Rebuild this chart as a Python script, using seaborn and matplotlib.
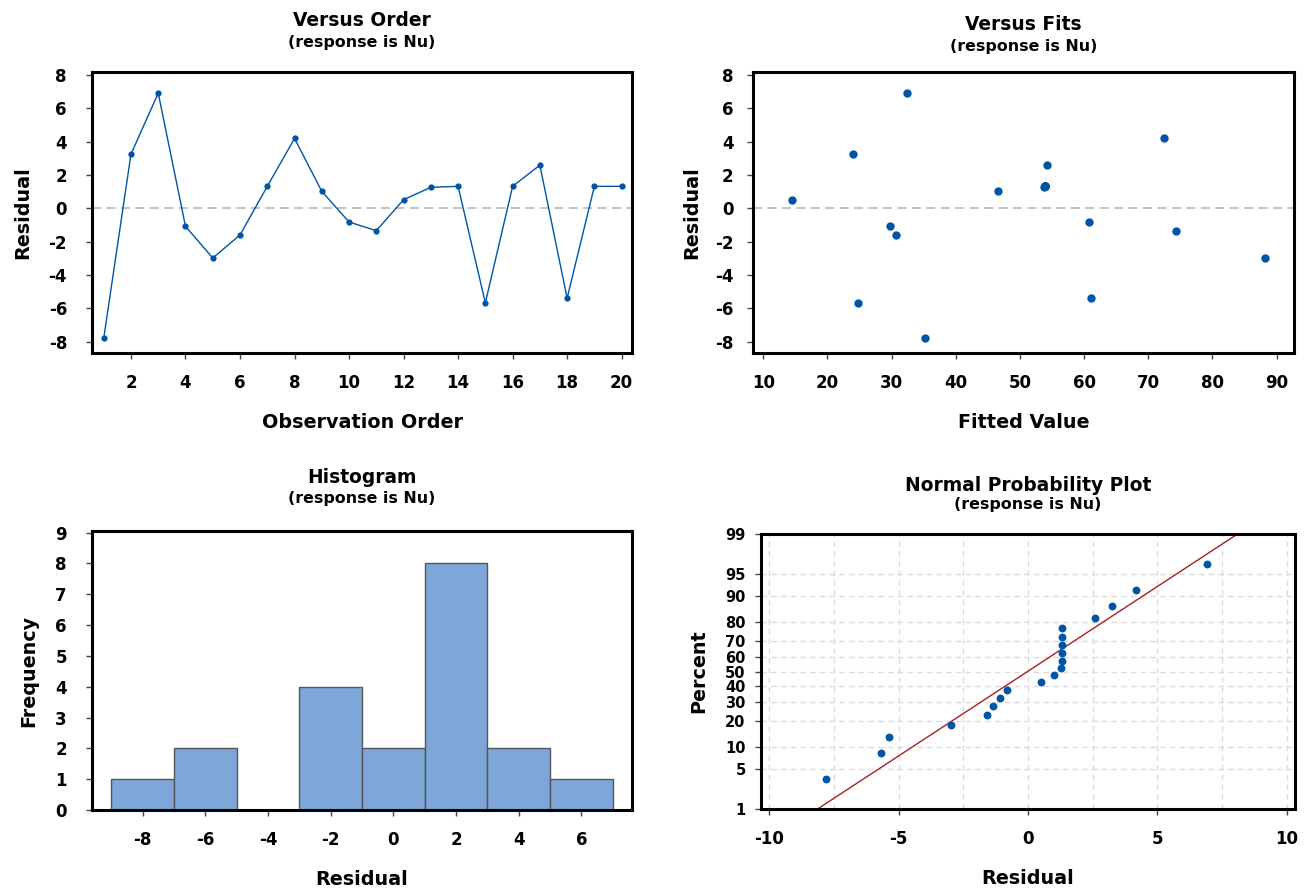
import numpy as np
import pandas as pd
import matplotlib
matplotlib.use("Agg")
import matplotlib.pyplot as plt
import seaborn as sns
from matplotlib.ticker import MultipleLocator, FixedLocator
from statistics import NormalDist

# residuals, in observation order
order = list(range(1, 21))
residuals = [-7.80, 3.25, 6.91, -1.08, -2.98, -1.60, 1.32, 4.19, 1.02, -0.82,
             -1.34, 0.52, 1.26, 1.32, -5.67, 1.32, 2.59, -5.39, 1.32, 1.32]
fitted = [35.27, 23.94, 32.44, 29.83, 88.24, 30.74, 53.85, 72.38, 46.54, 60.71,
          74.31, 14.53, 53.80, 53.90, 24.79, 53.90, 54.25, 61.05, 53.90, 53.95]
pct_ticks = [1, 5, 10, 20, 30, 40, 50, 60, 70, 80, 90, 95, 99]

df = pd.DataFrame({"order": order, "resid": residuals, "fit": fitted})

sns.set_theme(style="white")
plt.rcParams["font.family"] = ["DejaVu Sans"]
plt.rcParams["font.weight"] = "bold"
plt.rcParams["axes.labelweight"] = "bold"
plt.rcParams["text.color"] = "black"
plt.rcParams["axes.labelcolor"] = "black"
plt.rcParams["xtick.color"] = "black"
plt.rcParams["ytick.color"] = "black"
plt.rcParams["axes.unicode_minus"] = False

W, H = 1309, 888
fig = plt.figure(figsize=(W / 100, H / 100), dpi=100)

def box(l, t, r, b):
    return fig.add_axes([l / W, 1 - b / H, (r - l) / W, (b - t) / H])

blue = "#0054A6"
tick_fs = 12
lab_fs = 13.8

def style(ax, ypad=14, xpad=11):
    for s in ax.spines.values():
        s.set_linewidth(2.2)
        s.set_color("black")
    ax.tick_params(axis="both", direction="out", length=4, width=1, color="#444444",
                   labelsize=tick_fs, bottom=True, left=True)
    ax.tick_params(axis="y", pad=ypad)
    ax.tick_params(axis="x", pad=xpad)
    for lbl in ax.get_xticklabels() + ax.get_yticklabels():
        lbl.set_fontweight("bold")

def titles(ax, main, y1, y2):
    pos = ax.get_position()
    xc = (pos.x0 + pos.x1) / 2
    fig.text(xc, 1 - y1 / H, main, ha="center", va="center", fontsize=13.4, fontweight="bold")
    fig.text(xc, 1 - y2 / H, "(response is Nu)", ha="center", va="center", fontsize=11.4,
             fontweight="bold")

# Versus Order
ax1 = box(92, 72, 632, 353)
ax1.axhline(0, color="#BDBDBD", lw=1.3, dashes=(5, 3), zorder=0)
sns.lineplot(data=df, x="order", y="resid", ax=ax1, color=blue, lw=1, marker="o",
             markersize=4.5, markeredgewidth=0)
ax1.set_xlim(0.57, 20.38)
ax1.set_ylim(-8.68, 8.18)
ax1.xaxis.set_major_locator(MultipleLocator(2))
ax1.yaxis.set_major_locator(MultipleLocator(2))
ax1.set_xlabel("Observation Order", fontsize=lab_fs, labelpad=15)
ax1.set_ylabel("Residual", fontsize=lab_fs, labelpad=12)
style(ax1)
titles(ax1, "Versus Order", 20, 42)

# Versus Fits
ax2 = box(753, 72, 1294, 353)
ax2.axhline(0, color="#BDBDBD", lw=1.3, dashes=(5, 3), zorder=0)
sns.scatterplot(data=df, x="fit", y="resid", ax=ax2, color=blue, s=36, linewidth=0)
ax2.set_xlim(8.41, 92.71)
ax2.set_ylim(-8.68, 8.18)
ax2.xaxis.set_major_locator(MultipleLocator(10))
ax2.yaxis.set_major_locator(MultipleLocator(2))
ax2.set_xlabel("Fitted Value", fontsize=lab_fs, labelpad=15)
ax2.set_ylabel("Residual", fontsize=lab_fs, labelpad=10)
style(ax2, ypad=10)
titles(ax2, "Versus Fits", 25, 47)

# Histogram
ax3 = box(92, 531, 632, 810)
sns.histplot(data=df, x="resid", ax=ax3, binrange=(-9, 7), binwidth=2,
             color="#7EA6D8", edgecolor="#555555", linewidth=1, alpha=1)
ax3.set_xlim(-9.62, 7.62)
ax3.set_ylim(0, 9.05)
ax3.xaxis.set_major_locator(FixedLocator([-8, -6, -4, -2, 0, 2, 4, 6]))
ax3.yaxis.set_major_locator(MultipleLocator(1))
ax3.set_xlabel("Residual", fontsize=lab_fs, labelpad=15)
ax3.set_ylabel("Frequency", fontsize=lab_fs, labelpad=12)
style(ax3)
titles(ax3, "Histogram", 477, 498)

# Normal Probability Plot
nd = NormalDist()
_ppf = np.vectorize(lambda p: nd.inv_cdf(min(max(p / 100.0, 1e-9), 1 - 1e-9)), otypes=[float])
_cdf = np.vectorize(lambda z: nd.cdf(z) * 100.0, otypes=[float])

def fwd(p):
    return _ppf(np.asarray(p, dtype=float))

def inv(z):
    return _cdf(np.asarray(z, dtype=float))

n = len(residuals)
srt = np.sort(residuals)
ranks = (np.arange(1, n + 1) - 0.3) / (n + 0.4) * 100
mu = np.mean(residuals)
sd = np.std(residuals, ddof=1)
line_p = np.array([0.05, 99.95])
line_x = mu + sd * fwd(line_p)

ax4 = box(761, 534, 1295, 809)
ax4.set_yscale("function", functions=(fwd, inv))
sns.lineplot(x=line_x, y=line_p, ax=ax4, color="#A52222", lw=1, sort=False)
sns.scatterplot(x=srt, y=ranks, ax=ax4, color=blue, s=32, linewidth=0, zorder=3)
ax4.set_xlim(-10.32, 10.32)
ax4.set_ylim(1, 99)
ax4.xaxis.set_major_locator(MultipleLocator(5))
ax4.xaxis.set_minor_locator(MultipleLocator(2.5))
ax4.yaxis.set_major_locator(FixedLocator(pct_ticks))
ax4.yaxis.set_minor_locator(FixedLocator([]))
ax4.set_yticklabels([str(p) for p in pct_ticks])
ax4.grid(True, which="both", axis="x", color="#DCDCDC", lw=1, dashes=(4, 3))
ax4.grid(True, which="major", axis="y", color="#DCDCDC", lw=1, dashes=(4, 3))
ax4.tick_params(axis="x", which="minor", length=0)
ax4.set_xlabel("Residual", fontsize=lab_fs, labelpad=15)
ax4.set_ylabel("Percent", fontsize=lab_fs, labelpad=12)
style(ax4, ypad=7)
ax4.tick_params(axis="y", labelsize=10.5)
titles(ax4, "Normal Probability Plot", 485, 505)

fig.savefig("out.png", dpi=100)
